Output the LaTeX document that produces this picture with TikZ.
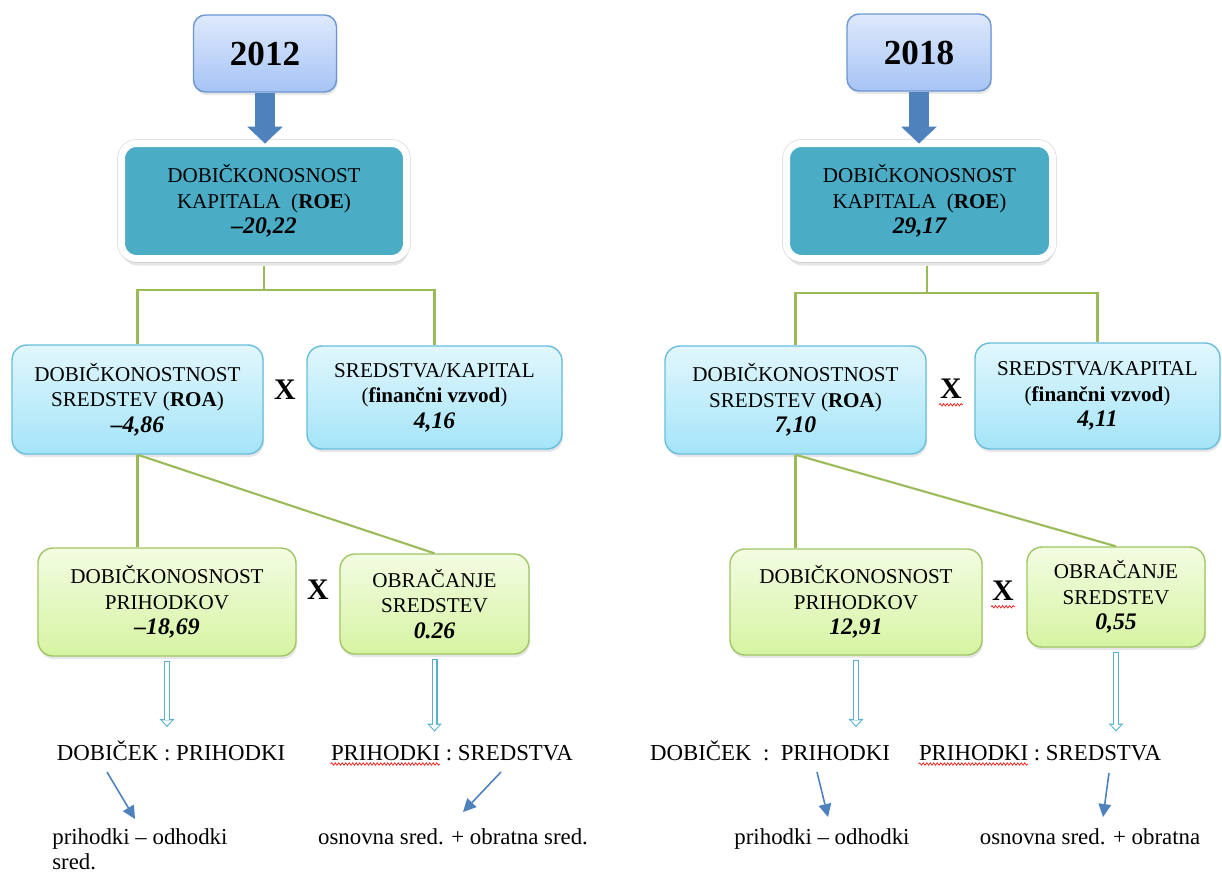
\documentclass[tikz,border=0pt]{standalone}
\usepackage{fontspec}
\setmainfont{Liberation Serif}
\usepackage{tikz}
\usetikzlibrary{arrows.meta,decorations.pathmorphing,shadows}
\definecolor{YearTop}{RGB}{222,233,252}
\definecolor{YearBottom}{RGB}{166,196,245}
\definecolor{YearEdge}{RGB}{108,150,210}
\definecolor{RoeTeal}{RGB}{75,172,198}
\definecolor{RoaTop}{RGB}{226,247,253}
\definecolor{RoaBottom}{RGB}{164,228,248}
\definecolor{RoaEdge}{RGB}{104,190,220}
\definecolor{LeafTop}{RGB}{243,252,226}
\definecolor{LeafBottom}{RGB}{214,244,162}
\definecolor{LeafEdge}{RGB}{160,198,100}
\definecolor{LinkGreen}{RGB}{155,187,89}
\definecolor{HollowBlue}{RGB}{86,178,206}
\definecolor{PointerBlue}{RGB}{79,129,189}
\newcommand{\boxval}[1]{{\fontsize{13.5}{14.5}\selectfont\bfseries\itshape #1}}
\tikzset{
  sz/.style 2 args={minimum width=#1*0.02cm,minimum height=#2*0.02cm},
  yearbox/.style={rounded corners=0.24cm,draw=YearEdge,line width=0.8pt,top color=YearTop,bottom color=YearBottom,
    drop shadow={shadow xshift=0.02cm,shadow yshift=-0.06cm,opacity=0.2},font=\fontsize{20}{24}\selectfont\bfseries},
  roebox/.style={rounded corners=0.3cm,draw=white,line width=0.14cm,fill=RoeTeal,align=center,
    preaction={draw=black!12,line width=0.175cm},
    drop shadow={shadow xshift=0.02cm,shadow yshift=-0.14cm,opacity=0.2},font=\fontsize{12}{14.5}\selectfont},
  roabox/.style={rounded corners=0.3cm,draw=RoaEdge,line width=0.8pt,top color=RoaTop,bottom color=RoaBottom,align=center,
    drop shadow={shadow xshift=0.02cm,shadow yshift=-0.06cm,opacity=0.2},font=\fontsize{12}{14.5}\selectfont},
  leafbox/.style={rounded corners=0.3cm,draw=LeafEdge,line width=0.8pt,top color=LeafTop,bottom color=LeafBottom,align=center,
    drop shadow={shadow xshift=0.02cm,shadow yshift=-0.06cm,opacity=0.2},font=\fontsize{12}{14.5}\selectfont},
  link/.style={draw=LinkGreen,line width=1.2pt},
}
\tikzset{mult/.style={inner sep=0pt,font=\fontsize{17}{20}\selectfont\bfseries}, ratiotext/.style={anchor=base,inner sep=0pt,font=\fontsize{13}{15}\selectfont}, formtext/.style={anchor=base,inner sep=0pt,font=\fontsize{13}{14.2}\selectfont}}
\tikzset{fat/.style={draw=PointerBlue,line width=0.4cm,-{Triangle[width=0.72cm,length=0.34cm,line width=0pt]},shorten >=-0.07cm}, hollowout/.style={draw=HollowBlue,line width=0.12cm,-{Triangle[width=0.3cm,length=0.16cm,line width=0pt]},shorten <=0.08cm,shorten >=0.26cm}, hollowin/.style={draw=white,line width=0.072cm,-{Triangle[width=0.2cm,length=0.1cm,line width=0pt]},shorten <=0.11cm,shorten >=0.295cm}, pointer/.style={draw=PointerBlue,line width=0.9pt,-{Triangle[width=0.26cm,length=0.26cm,line width=0pt]}}, squiggle/.style={draw=red,line width=0.35pt,decorate,decoration={snake,amplitude=0.025cm,segment length=0.07cm}}}

\begin{document}
\begin{tikzpicture}[x=0.02cm,y=-0.02cm]
\useasboundingbox (0,0) rectangle (1222,872);
% 2012
\node[yearbox,sz={143}{77}] (y12) at (265,53.5) {2012};
\node[roebox,sz={285}{115}] (roe12) at (264,201) {DOBIČKONOSNOST\\KAPITALA\ \ (\textbf{ROE})\\\boxval{–20,22}};
\node[roabox,sz={251}{109}] (roa12) at (137.5,399.5) {DOBIČKONOSTNOST\\SREDSTEV (\textbf{ROA})\\\boxval{–4,86}};
\node[mult] (x12a) at (285,390) {X};
\node[roabox,sz={255}{103}] (sk12) at (434.5,397.5) {SREDSTVA/KAPITAL\\(\textbf{finančni vzvod})\\\boxval{4,16}};
\node[leafbox,sz={258}{108}] (dp12) at (167,602) {DOBIČKONOSNOST\\PRIHODKOV\\\boxval{–18,69}};
\node[mult] (x12b) at (318,590) {X};
\node[leafbox,sz={189}{100}] (obr12) at (434.5,604) {OBRAČANJE\\SREDSTEV\\\boxval{0.26}};
\node[ratiotext] (r12a) at (171,760) {DOBIČEK : PRIHODKI};
\node[ratiotext] (r12b) at (452,760) {PRIHODKI : SREDSTVA};
\node[formtext,align=left,anchor=north west] (f12a) at (52,828) {prihodki – odhodki\\sred.};
\node[formtext] (f12b) at (453,844) {osnovna sred. + obratna sred.};

\coordinate (j12) at (264,290);
\draw[link,shorten <=0.07cm] (roe12.south) -- (j12);
\draw[link] (j12) -| (roa12.north);
\draw[link] (j12) -| (sk12.north);
\draw[link] (roa12.south) -- (roa12.south |- dp12.north);
\draw[link] (roa12.south) -- (obr12.north);
\draw[fat] (y12.south) -- (y12.south |- roe12.north);
\draw[hollowout] (dp12.south) -- (dp12.south |- r12a.north);
\draw[hollowin] (dp12.south) -- (dp12.south |- r12a.north);
\draw[hollowout] (obr12.south) -- (obr12.south |- r12b.north);
\draw[hollowin] (obr12.south) -- (obr12.south |- r12b.north);
\draw[pointer] ([shift={(-64,12)}]r12a.base) -- ([shift={(83,-9)}]f12a.north west);
\draw[pointer] ([shift={(49,12)}]r12b.base) -- ([shift={(10,-32)}]f12b.base);
\draw[squiggle] ([shift={(0,4)}]r12b.base west) -- ++(109,0);

% 2018
\node[yearbox,sz={144}{77}] (y18) at (919,52.5) {2018};
\node[roebox,sz={266}{115}] (roe18) at (919.5,201) {DOBIČKONOSNOST\\KAPITALA\ \ (\textbf{ROE})\\\boxval{29,17}};
\node[roabox,sz={261}{108}] (roa18) at (795.5,400) {DOBIČKONOSTNOST\\SREDSTEV (\textbf{ROA})\\\boxval{7,10}};
\node[mult] (x18a) at (951,389) {X};
\node[roabox,sz={245}{106}] (sk18) at (1097.5,396) {SREDSTVA/KAPITAL\\(\textbf{finančni vzvod})\\\boxval{4,11}};
\node[leafbox,sz={252}{106}] (dp18) at (856,602) {DOBIČKONOSNOST\\PRIHODKOV\\\boxval{12,91}};
\node[mult] (x18b) at (1003,591) {X};
\node[leafbox,sz={178}{100}] (obr18) at (1116,597) {OBRAČANJE\\SREDSTEV\\\boxval{0,55}};
\node[ratiotext] (r18a) at (770,760) {DOBIČEK\ \ :\ \ PRIHODKI};
\node[ratiotext] (r18b) at (1040,760) {PRIHODKI : SREDSTVA};
\node[formtext] (f18a) at (822,844) {prihodki – odhodki};
\node[formtext] (f18b) at (1090,844) {osnovna sred. + obratna};

\coordinate (j18) at (927,293);
\draw[link,shorten <=0.07cm] (roe18.south -| j18) -- (j18);
\draw[link] (j18) -| (roa18.north);
\draw[link] (j18) -| (sk18.north);
\draw[link] (roa18.south) -- (roa18.south |- dp18.north);
\draw[link] (roa18.south) -- (obr18.north);
\draw[fat] (y18.south) -- (y18.south |- roe18.north);
\draw[hollowout] (dp18.south) -- (dp18.south |- r18a.north);
\draw[hollowin] (dp18.south) -- (dp18.south |- r18a.north);
\draw[hollowout] (obr18.south) -- (obr18.south |- r18b.north);
\draw[hollowin] (obr18.south) -- (obr18.south |- r18b.north);
\draw[pointer] ([shift={(47,12)}]r18a.base) -- ([shift={(6,-27)}]f18a.base);
\draw[pointer] ([shift={(69,13)}]r18b.base) -- ([shift={(13,-27)}]f18b.base);
\draw[squiggle] ([shift={(0,4)}]r18b.base west) -- ++(109,0);
\draw[squiggle] ([shift={(-12,6)}]x18a.base) -- ++(24,0);
\draw[squiggle] ([shift={(-12,6)}]x18b.base) -- ++(24,0);
\end{tikzpicture}
\end{document}
